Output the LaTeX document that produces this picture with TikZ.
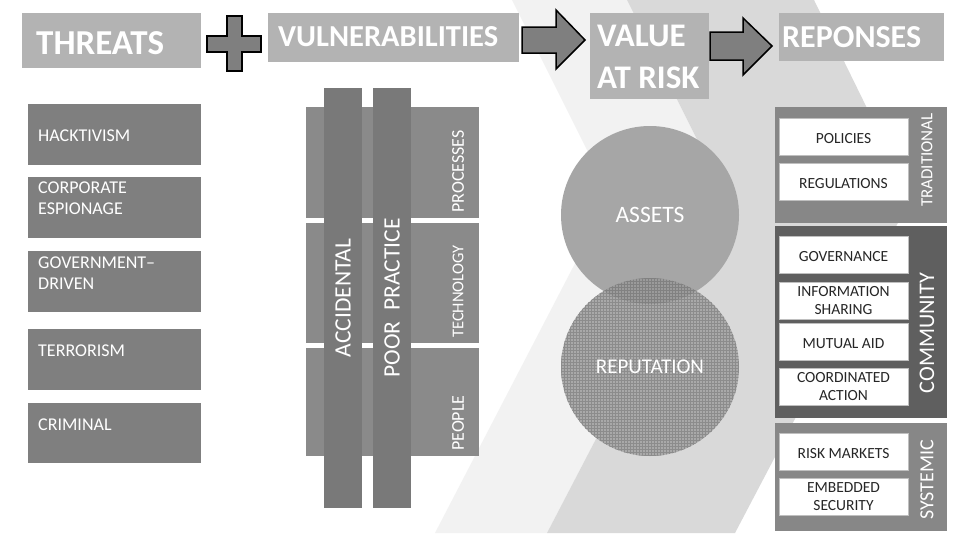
\documentclass[tikz,border=0pt]{standalone}
\usepackage{fontspec}
\setmainfont{Carlito}
\usetikzlibrary{patterns,calc}
\definecolor{bandlight}{HTML}{F2F2F2}
\definecolor{banddark}{HTML}{D9D9D9}
\definecolor{hdrgray}{HTML}{B3B3B3}
\definecolor{boxgray}{HTML}{7F7F7F}
\definecolor{rowgray}{HTML}{8A8A8A}
\definecolor{bargray}{HTML}{797979}
\definecolor{panelgray}{HTML}{878787}
\definecolor{commgray}{HTML}{5F5F5F}
\definecolor{assetgray}{HTML}{A6A6A6}
\definecolor{repgray}{HTML}{A9A9A9}
\definecolor{gridgray}{HTML}{8C8C8C}
\definecolor{wbtext}{HTML}{262626}
\begin{document}
\begin{tikzpicture}[x=1pt,y=-1pt,
  rect/.style={inner sep=0pt, outer sep=0pt, anchor=north west},
  hdrbox/.style={rect, fill=hdrgray},
  hdrtxt/.style={inner sep=0pt, anchor=west, text=white, font=\bfseries\fontsize{#1}{#1}\selectfont},
  tbox/.style={rect, fill=boxgray, minimum width=173, minimum height=61},
  ttxt/.style={inner sep=0pt, anchor=west, align=left, text=white, font=\fontsize{18}{20.5}\selectfont},
  vrow/.style={rect, fill=rowgray, minimum width=173},
  vbar/.style={rect, fill=bargray, minimum width=38, minimum height=420},
  vbartxt/.style={inner sep=0pt, rotate=90, text=white, font=\fontsize{23.5}{24}\selectfont},
  vrowtxt/.style={inner sep=0pt, rotate=90, anchor=west, text=white, font=\fontsize{#1}{20}\selectfont},
  blk/.style={fill=boxgray, draw=black, line width=1.5pt, line join=miter},
  circtxt/.style={text=white, inner sep=0pt, font=\fontsize{#1}{24}\selectfont},
  panel/.style={rect, minimum width=172},
  wbox/.style={rect, fill=white, draw=black!25, line width=0.6pt, minimum width=129, minimum height=37},
  wtxt/.style={inner sep=0pt, align=center, text=wbtext, font=\fontsize{15.5}{17.5}\selectfont},
  paneltxt/.style={inner sep=0pt, rotate=90, text=white, font=\fontsize{#1}{#1}\selectfont}
]
\useasboundingbox (0,0) rectangle (955,533);
\fill[white] (0,0) rectangle (955,533);
% background chevron bands
\fill[bandlight] (512,0) -- (610,196) -- (435,533) -- (547,533) -- (724,193) -- (627,0) -- cycle;
\fill[banddark] (627,0) -- (724,193) -- (547,533) -- (735,533) -- (911,198) -- (814,0) -- cycle;

% headers
\node[hdrbox, minimum width=179, minimum height=55] (hthreat) at (22,13) {};
\node[hdrtxt=35] (hthreatT) at (36,43) {THREATS};
\node[hdrbox, minimum width=251, minimum height=49] (hvuln) at (268,13) {};
\node[hdrtxt=30.5] (hvulnT) at (278,37) {VULNERABILITIES};
\node[hdrbox, minimum width=119, minimum height=86] (hvar) at (590,13) {};
\node[hdrtxt=33] (hvarT1) at (597,36) {VALUE};
\node[hdrtxt=33] (hvarT2) at (597,78) {AT RISK};
\node[hdrbox, minimum width=165, minimum height=48] (hresp) at (779,13) {};
\node[hdrtxt=32] (hrespT) at (782,37) {REPONSES};

% plus and block arrows
\draw[blk] (227,16) -- (242,16) -- (242,36) -- (261,36) -- (261,52) -- (242,52) -- (242,71) -- (227,71) -- (227,52) -- (207,52) -- (207,36) -- (227,36) -- cycle;
\draw[blk] (522,27) -- (556,27) -- (556,10) -- (585,40) -- (556,69) -- (556,53) -- (522,53) -- cycle;
\draw[blk] (710,32) -- (743,32) -- (743,18) -- (772,46) -- (743,75) -- (743,60) -- (710,60) -- cycle;

% threats
\node[tbox] (t1) at (28,104) {};
\node[tbox] (t2) at (28,177) {};
\node[tbox] (t3) at (28,251) {};
\node[tbox] (t4) at (28,329) {};
\node[tbox, minimum height=60] (t5) at (28,403) {};
\node[ttxt] (t1l) at (38,136) {HACKTIVISM};
\node[ttxt] (t2l) at (38,198) {CORPORATE\\ESPIONAGE};
\node[ttxt] (t3l) at (38,273) {GOVERNMENT–\\DRIVEN};
\node[ttxt] (t4l) at (38,351) {TERRORISM};
\node[ttxt] (t5l) at (38,425) {CRIMINAL};

% vulnerabilities
\node[vrow, minimum height=111] (r1) at (306,107) {};
\node[vrow, minimum height=120] (r2) at (306,223) {};
\node[vrow, minimum height=108] (r3) at (306,348) {};
\node[vbar] (b1) at (324,88) {};
\node[vbar] (b2) at (373,88) {};
\node[vbartxt] (b1l) at (b1.center) {ACCIDENTAL};
\node[vbartxt] (b2l) at (b2.center) {POOR\ \ PRACTICE};
\node[vrowtxt=18] (r1l) at (458,213) {PROCESSES};
\node[vrowtxt=16.5] (r2l) at (458,338) {TECHNOLOGY};
\node[vrowtxt=18] (r3l) at (458,451) {PEOPLE};

% value at risk
\node[circle, fill=assetgray, minimum size=178, inner sep=0pt] (assets) at (650,215) {};
\node[circle, minimum size=178, inner sep=0pt] (rep) at (650,367) {};
\fill[repgray] (rep.center) circle (89);
\fill[pattern=grid, pattern color=gridgray] (rep.center) circle (89);
\begin{scope}
\clip (assets.center) circle (89);
\fill[black, opacity=0.08] (rep.center) circle (89);
\end{scope}
\node[circtxt=23.5] (assetsl) at (assets.center) {ASSETS};
\node[circtxt=21] (repl) at (rep.center) {REPUTATION};

% responses
\node[panel, fill=panelgray, minimum height=116] (ptrad) at (775,107) {};
\node[panel, fill=commgray, minimum height=192] (pcomm) at (775,226) {};
\node[panel, fill=panelgray, minimum height=108] (psys) at (775,423) {};
\node[wbox] (w1) at (779,118) {};
\node[wbox] (w2) at (779,163) {};
\node[wbox] (w3) at (779,236) {};
\node[wbox] (w4) at (779,282) {};
\node[wbox] (w5) at (779,323) {};
\node[wbox] (w6) at (779,368) {};
\node[wbox] (w7) at (779,433) {};
\node[wbox] (w8) at (779,478) {};
\node[wtxt, yshift=-2pt] (w1l) at (w1.center) {POLICIES};
\node[wtxt, yshift=-2pt] (w2l) at (w2.center) {REGULATIONS};
\node[wtxt, yshift=-2pt] (w3l) at (w3.center) {GOVERNANCE};
\node[wtxt] (w4l) at (w4.center) {INFORMATION\\SHARING};
\node[wtxt, yshift=-2pt] (w5l) at (w5.center) {MUTUAL AID};
\node[wtxt] (w6l) at (w6.center) {COORDINATED\\ACTION};
\node[wtxt, yshift=-2pt] (w7l) at (w7.center) {RISK MARKETS};
\node[wtxt] (w8l) at (w8.center) {EMBEDDED\\SECURITY};
\node[paneltxt=17] (ptradl) at (927,160) {TRADITIONAL};
\node[paneltxt=22.3] (pcomml) at (927,333) {COMMUNITY};
\node[paneltxt=20] (psysl) at (927,480) {SYSTEMIC};
\end{tikzpicture}
\end{document}
